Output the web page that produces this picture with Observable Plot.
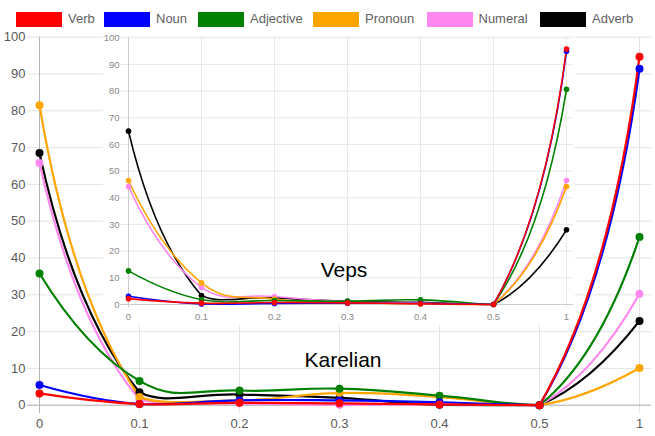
<!DOCTYPE html>
<html><head><meta charset="utf-8">
<script src="https://cdn.jsdelivr.net/npm/d3@7"></script>
<script src="https://cdn.jsdelivr.net/npm/@observablehq/plot@0.6"></script>
<style>
body{margin:0;background:#fff;font-family:"Liberation Sans",Arial,sans-serif;}
#wrap{position:relative;width:655px;height:436px;overflow:hidden;background:#fff;}
#wrap svg{position:absolute;}
.leg-rect{position:absolute;width:46px;height:15px;top:11.7px;}
.leg-text{position:absolute;top:12.3px;font-size:13px;line-height:13px;color:#5f5f5f;white-space:nowrap;}
.lbl{position:absolute;font-size:21px;line-height:21px;color:#000;transform:translateX(-50%);white-space:nowrap;}
</style></head><body><div id="wrap"></div>
<script>
const categories = ["0","0.1","0.2","0.3","0.4","0.5","1"];
const seriesNames = ["Verb","Noun","Adjective","Pronoun","Numeral","Adverb"];
const seriesColors = ["#ff0000","#0000ff","#008000","#ffa500","#ff88ee","#000000"];
const yTicks = [0,10,20,30,40,50,60,70,80,90,100];

// Karelian (main chart)
const karelianVerb      = [3.2, 0.3, 0.65, 0.5, 0.2, 0, 94.7];
const karelianNoun      = [5.5, 0.3, 1.3, 1.3, 0.8, 0, 91.4];
const karelianAdjective = [35.8, 6.6, 4.0, 4.5, 2.6, 0, 45.7];
const karelianPronoun   = [81.5, 2.2, 1.3, 3.3, 2.2, 0, 10.1];
const karelianNumeral   = [65.8, 1.5, 0.5, 0.1, 0.3, 0, 30.3];
const karelianAdverb    = [68.5, 3.5, 2.9, 2.0, 0.1, 0, 22.9];

// Veps (inset chart)
const vepsVerb      = [2.2, 0.5, 0.75, 0.6, 0.3, 0, 95.8];
const vepsNoun      = [3.1, 0.2, 0.4, 0.5, 0.4, 0, 95.0];
const vepsAdjective = [12.6, 1.8, 1.5, 1.25, 1.75, 0, 80.7];
const vepsPronoun   = [46.5, 8.1, 2.0, 0.8, 0.2, 0, 44.2];
const vepsNumeral   = [44.2, 6.4, 3.0, 1.0, 0.5, 0, 46.5];
const vepsAdverb    = [65.0, 3.4, 2.5, 1.2, 0.8, 0, 28.0];

const karelian = [karelianVerb, karelianNoun, karelianAdjective, karelianPronoun, karelianNumeral, karelianAdverb];
const veps = [vepsVerb, vepsNoun, vepsAdjective, vepsPronoun, vepsNumeral, vepsAdverb];

function toRows(sets) {
  const rows = [];
  for (let s = sets.length - 1; s >= 0; s--) {
    sets[s].forEach((v, i) => rows.push({series: seriesNames[s], x: categories[i], y: v}));
  }
  return rows;
}
const mainRows = toRows(karelian);
const insetRows = toRows(veps);
const font = '"Liberation Sans", Arial, sans-serif';

// smooth spline with control points kept inside the plotting area
function smoothCurve(yTop, yBottom, t) {
  const clamp = y => Math.max(yTop, Math.min(yBottom, y));
  return function(context) {
    let pts = [];
    return {
      areaStart() {}, areaEnd() {},
      lineStart() { pts = []; },
      point(x, y) { pts.push([+x, +y]); },
      lineEnd() {
        const n = pts.length;
        if (!n) return;
        context.moveTo(pts[0][0], pts[0][1]);
        if (n === 1) return;
        if (n === 2) { context.lineTo(pts[1][0], pts[1][1]); return; }
        const cin = [], cout = [];
        for (let i = 1; i < n - 1; i++) {
          const [x0, y0] = pts[i - 1], [x1, y1] = pts[i], [x2, y2] = pts[i + 1];
          const d01 = Math.hypot(x1 - x0, y1 - y0), d12 = Math.hypot(x2 - x1, y2 - y1);
          const s = d01 + d12 || 1;
          const fa = t * d01 / s, fb = t * d12 / s;
          cin[i] = [x1 - fa * (x2 - x0), clamp(y1 - fa * (y2 - y0))];
          cout[i] = [x1 + fb * (x2 - x0), clamp(y1 + fb * (y2 - y0))];
        }
        context.quadraticCurveTo(cin[1][0], cin[1][1], pts[1][0], pts[1][1]);
        for (let i = 1; i < n - 2; i++) {
          context.bezierCurveTo(cout[i][0], cout[i][1], cin[i + 1][0], cin[i + 1][1], pts[i + 1][0], pts[i + 1][1]);
        }
        context.quadraticCurveTo(cout[n - 2][0], cout[n - 2][1], pts[n - 1][0], pts[n - 1][1]);
      }
    };
  };
}

const main = Plot.plot({
  width: 655, height: 436,
  marginTop: 36.7, marginBottom: 23, marginLeft: 27, marginRight: 4,
  style: {background: "transparent", fontFamily: font, fontSize: "13px", color: "#5a5a5a", overflow: "visible"},
  x: {type: "point", domain: categories, range: [37, 641], padding: 0, align: 0.5, tickSize: 0, tickPadding: 5, label: null},
  y: {domain: [0, 100], range: [404.7, 36.7], ticks: yTicks, tickSize: 0, tickPadding: 2, label: null},
  color: {domain: seriesNames, range: seriesColors},
  marks: [
    Plot.ruleY(yTicks.filter(d => d > 0), {stroke: "#e3e3e3"}),
    Plot.ruleX(categories.slice(1), {stroke: "#e3e3e3"}),
    Plot.ruleX(categories.slice(0, 1), {stroke: "#b5b5b5"}),
    Plot.ruleY([0], {stroke: "#aaaaaa"}),
    Plot.line(mainRows, {x: "x", y: "y", z: "series", stroke: "series", curve: smoothCurve(36.7, 404.7, 0.45), strokeWidth: 2.2}),
    Plot.dot(mainRows, {x: "x", y: "y", fill: "series", r: 4})
  ]
});
main.style.left = "0px"; main.style.top = "0px";

const inset = Plot.plot({
  width: 472, height: 288,
  marginTop: 0.3, marginBottom: 18, marginLeft: 17, marginRight: 2,
  style: {background: "#fff", fontFamily: font, fontSize: "9.5px", color: "#8a8a8a", overflow: "visible"},
  x: {type: "point", domain: categories, range: [25, 463], padding: 0, align: 0.5, tickSize: 0, tickPadding: 6, label: null},
  y: {domain: [0, 100], range: [267, 0.3], ticks: yTicks, tickSize: 0, tickPadding: 1, label: null},
  color: {domain: seriesNames, range: seriesColors},
  marks: [
    Plot.ruleY(yTicks.filter(d => d > 0), {stroke: "#e8e8e8"}),
    Plot.ruleX(categories.slice(1), {stroke: "#e8e8e8"}),
    Plot.ruleX(categories.slice(0, 1), {stroke: "#cccccc"}),
    Plot.ruleY([0], {stroke: "#cccccc"}),
    Plot.line(insetRows, {x: "x", y: "y", z: "series", stroke: "series", curve: smoothCurve(0.3, 267, 0.45), strokeWidth: 1.6}),
    Plot.dot(insetRows, {x: "x", y: "y", fill: "series", r: 2.8})
  ]
});
inset.style.left = "103px"; inset.style.top = "37px";

const wrap = document.getElementById("wrap");
wrap.appendChild(main);
wrap.appendChild(inset);

// legend
const legendLefts = [16, 104, 198, 313, 426.5, 540];
seriesNames.forEach((name, i) => {
  const r = document.createElement("div");
  r.className = "leg-rect";
  r.style.left = legendLefts[i] + "px";
  r.style.background = seriesColors[i];
  wrap.appendChild(r);
  const t = document.createElement("div");
  t.className = "leg-text";
  t.style.left = (legendLefts[i] + 52) + "px";
  t.textContent = name;
  wrap.appendChild(t);
});

// panel labels
[["Veps", 344, 259.2], ["Karelian", 343, 349.2]].forEach(([txt, cx, top]) => {
  const d = document.createElement("div");
  d.className = "lbl";
  d.style.left = cx + "px"; d.style.top = top + "px";
  d.textContent = txt;
  wrap.appendChild(d);
});
</script></body></html>
